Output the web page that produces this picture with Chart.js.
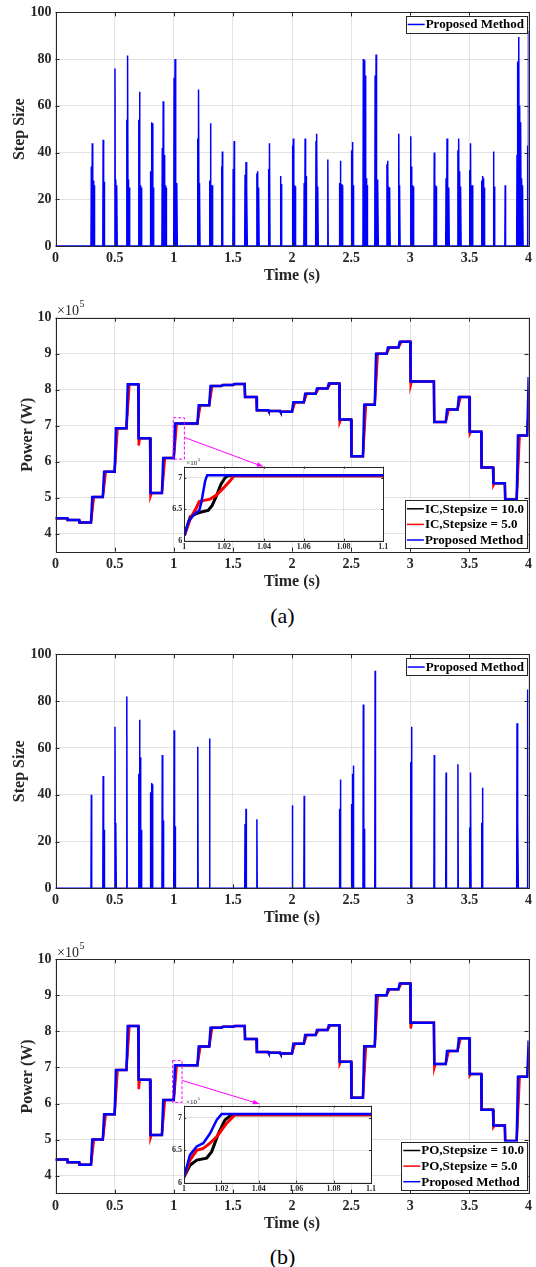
<!DOCTYPE html>
<html>
<head>
<meta charset="utf-8">
<script src="https://cdn.jsdelivr.net/npm/chart.js@4.4.1/dist/chart.umd.min.js"></script>
<style>
  html, body { margin: 0; padding: 0; background: #fff; }
  #page { position: relative; width: 536px; height: 1267px; overflow: hidden; }
  canvas { position: absolute; }
  .cap { position: absolute; left: 0; width: 565px; text-align: center; line-height: 24px;
         font-family: "Liberation Serif", "Times New Roman", serif; font-size: 22px; color: #000; }
</style>
</head>
<body>
<div id="page">
  <canvas id="step1" width="536" height="300" style="left:0;top:0"></canvas>
  <canvas id="power1" width="536" height="300" style="left:0;top:300px"></canvas>
  <canvas id="zoom1" width="230" height="100" style="left:160px;top:455px"></canvas>
  <div class="cap" style="top:604px">(a)</div>
  <canvas id="step2" width="536" height="300" style="left:0;top:640px"></canvas>
  <canvas id="power2" width="536" height="300" style="left:0;top:940px"></canvas>
  <canvas id="zoom2" width="230" height="100" style="left:160px;top:1095px"></canvas>
  <div class="cap" style="top:1245px">(b)</div>
</div>
<script>
const SERIF = '"Liberation Serif", "Times New Roman", serif';
Chart.defaults.font.family = SERIF;
Chart.defaults.font.weight = 'bold';
Chart.defaults.color = '#262626';
Chart.defaults.animation = false;

// tick labels
const timeTicks = [0, 0.5, 1, 1.5, 2, 2.5, 3, 3.5, 4];
const stepTicks = [0, 20, 40, 60, 80, 100];
const powerTicks = [4, 5, 6, 7, 8, 9, 10];
const zoomTimeTicks = [1, 1.02, 1.04, 1.06, 1.08, 1.1];
const zoomPowerTicks = [6, 6.5, 7];

// step size bursts, (a) IC comparison
const burstTimesA = [0.3, 0.4, 0.5, 0.6, 0.7, 0.8, 0.9, 1.0, 1.2, 1.3, 1.4, 1.5, 1.6, 1.7, 1.8, 1.9,
  2.0, 2.1, 2.2, 2.3, 2.4, 2.5, 2.6, 2.7, 2.8, 2.9, 3.0, 3.2, 3.3, 3.4, 3.5, 3.6, 3.7, 3.8, 3.9, 3.99];
const burstPeaksA = [
  [34, 44, 28, 26], [45.5, 27.5], [76, 28.5, 26], [54, 81.5, 28.5, 25], [54, 66, 26, 25],
  [32, 53, 52.5, 25], [42, 62, 39, 26, 25], [72, 80, 28, 27], [46, 67, 27], [28, 52.5, 26, 26],
  [34, 40.5], [33, 45], [30.5, 36, 25], [31, 32, 25], [33, 44], [30, 26.5],
  [43, 46, 26, 25.5], [27, 46, 30], [45, 48, 25.5], [37], [27, 36.5, 26.5, 26], [41, 44.5, 26],
  [80, 79.5, 73, 29, 26], [73, 82, 28.5, 27.5], [35, 36.5, 25.5, 25], [48, 26], [47, 34, 26, 25.5],
  [40, 26, 25.5], [29, 46, 25.5, 25], [41, 46, 32, 25.5], [32.5, 44, 26, 26], [28, 30, 29, 25],
  [40.5, 25.5], [26], [39, 79, 89.5, 60, 53, 29, 26], [43, 92]
];

// step size bursts, (b) PO comparison
const burstTimesB = [0.3, 0.4, 0.5, 0.6, 0.7, 0.8, 0.9, 1.0, 1.2, 1.3, 1.6, 1.7, 2.0, 2.1,
  2.4, 2.5, 2.6, 2.7, 3.0, 3.2, 3.3, 3.4, 3.5, 3.6, 3.9, 3.99];
const burstPeaksB = [
  [40], [48, 25], [69, 28], [82], [49, 72, 56, 25], [41, 45, 44.5], [57, 29], [67.5, 26.5],
  [60.5], [64], [27.5, 34], [29.5], [35.5], [39.5],
  [34, 46.5], [36, 49, 52.5], [78.5, 25.5], [93], [54, 69], [57], [49.5], [53], [26, 49.5],
  [28, 43], [70.5, 29], [85]
];

// power profile (x10^5 W): level reached after each switching instant
const stepTimes = [0, 0.1, 0.2, 0.3, 0.4, 0.5, 0.6, 0.7, 0.8, 0.9, 1.0, 1.1, 1.2, 1.3, 1.4, 1.5,
  1.6, 1.7, 1.8, 1.9, 2.0, 2.1, 2.2, 2.3, 2.4, 2.5, 2.6, 2.7, 2.8, 2.9, 3.0, 3.1, 3.2, 3.3, 3.4,
  3.5, 3.6, 3.7, 3.8, 3.9, 3.99];
const powerLevelsA = [4.43, 4.38, 4.31, 5.02, 5.72, 6.93, 8.15, 6.65, 5.13, 6.10, 7.06, 7.06, 7.57,
  8.10, 8.13, 8.16, 7.80, 7.43, 7.41, 7.39, 7.65, 7.89, 8.03, 8.17, 7.17, 6.15, 7.58, 9.00, 9.17,
  9.33, 8.23, 8.23, 7.10, 7.45, 7.80, 6.83, 5.84, 5.40, 4.95, 6.73, 8.35];
const powerLevelsB = [4.45, 4.37, 4.30, 5.00, 5.70, 6.93, 8.15, 6.66, 5.13, 6.10, 7.06, 7.06, 7.58,
  8.10, 8.13, 8.15, 7.79, 7.43, 7.41, 7.39, 7.66, 7.90, 8.04, 8.17, 7.16, 6.16, 7.59, 9.00, 9.17,
  9.33, 8.24, 8.24, 7.10, 7.46, 7.81, 6.82, 5.83, 5.39, 4.96, 6.74, 7.75];
// red trace undershoot on falling steps
const dipTimesA = [0.7, 0.8, 2.4, 3.0, 3.5, 3.7];
const dipValuesA = [6.45, 5.05, 7.10, 8.13, 6.78, 5.35];
const dipTimesB = [0.7, 0.8, 2.4, 3.0, 3.2, 3.5, 3.7];
const dipValuesB = [6.40, 5.05, 7.10, 8.08, 7.00, 6.78, 5.35];

// zoomed transient around t = 1 s, [time, power]
const zoomBlackA = [[1.0, 6.08], [1.003, 6.38], [1.006, 6.43], [1.009, 6.46], [1.012, 6.48], [1.014, 6.56],
  [1.016, 6.70], [1.0185, 6.90], [1.0205, 7.00], [1.022, 7.03], [1.1, 7.03]];
const zoomRedA = [[1.0, 6.08], [1.003, 6.35], [1.006, 6.52], [1.0075, 6.62], [1.010, 6.64], [1.013, 6.66],
  [1.016, 6.72], [1.0195, 6.83], [1.023, 6.95], [1.025, 7.03], [1.1, 7.03]];
const zoomBlueA = [[1.0, 6.08], [1.002, 6.30], [1.005, 6.42], [1.0075, 6.48], [1.0085, 6.60],
  [1.0105, 6.95], [1.0115, 7.04], [1.1, 7.04]];
const zoomBlackB = [[1.0, 6.09], [1.0032, 6.27], [1.0068, 6.35], [1.0121, 6.38], [1.0148, 6.48],
  [1.0184, 6.76], [1.0219, 6.97], [1.0255, 7.05], [1.1, 7.05]];
const zoomRedB = [[1.0, 6.09], [1.0032, 6.35], [1.0068, 6.50], [1.0103, 6.53], [1.0139, 6.61],
  [1.0175, 6.71], [1.0228, 6.92], [1.0273, 7.05], [1.1, 7.05]];
const zoomBlueB = [[1.0, 6.09], [1.0032, 6.43], [1.0068, 6.56], [1.0103, 6.61], [1.0139, 6.76],
  [1.0175, 6.97], [1.0201, 7.06], [1.1, 7.06]];

const BLUE = '#0000ff', RED = '#ff0000', BLACK = '#000000';

function burstLine(times, peaks) {
  const pts = [{x: 0, y: 0}];
  times.forEach((t, i) => {
    peaks[i].forEach((p, k) => {
      const x = t + 0.003 + k * 0.008;
      pts.push({x: x - 0.003, y: 0}, {x: x, y: p}, {x: x + 0.003, y: 0});
    });
  });
  return pts;
}

function powerLine(levels, lagUp, dipTimes, dipValues) {
  const pts = [{x: stepTimes[0], y: levels[0]}];
  for (let i = 1; i < stepTimes.length; i++) {
    const t = stepTimes[i], prev = levels[i - 1], cur = levels[i];
    pts.push({x: t, y: prev});
    const d = dipTimes ? dipTimes.indexOf(t) : -1;
    if (d >= 0) {
      pts.push({x: t + 0.004, y: dipValues[d]}, {x: t + 0.012, y: cur});
    } else {
      pts.push({x: t + (cur > prev ? lagUp : 0.003), y: cur});
    }
  }
  pts.push({x: 4.1, y: levels[levels.length - 1]});
  return pts;
}

const pairs = arr => arr.map(([x, y]) => ({x, y}));

// box, inward ticks
const framePlugin = {
  id: 'frame',
  afterDatasetsDraw(chart, args, opts) {
    const {ctx, chartArea: a, scales} = chart;
    const len = opts.tick || 4;
    ctx.save();
    ctx.strokeStyle = '#262626';
    ctx.lineWidth = 1;
    ctx.beginPath();
    scales.x.ticks.forEach(t => {
      const px = Math.round(scales.x.getPixelForValue(t.value)) + 0.5;
      ctx.moveTo(px, a.bottom); ctx.lineTo(px, a.bottom - len);
      ctx.moveTo(px, a.top); ctx.lineTo(px, a.top + len);
    });
    scales.y.ticks.forEach(t => {
      const py = Math.round(scales.y.getPixelForValue(t.value)) + 0.5;
      ctx.moveTo(a.left, py); ctx.lineTo(a.left + len, py);
      ctx.moveTo(a.right, py); ctx.lineTo(a.right - len, py);
    });
    ctx.stroke();
    ctx.strokeRect(Math.round(a.left) + 0.5, Math.round(a.top) + 0.5,
      Math.round(a.right - a.left), Math.round(a.bottom - a.top));
    ctx.restore();
  }
};

const whiteArea = {
  id: 'whiteArea',
  beforeDraw(chart) {
    const {ctx, chartArea: a} = chart;
    ctx.save();
    ctx.fillStyle = '#fff';
    ctx.fillRect(a.left, a.top, a.right - a.left, a.bottom - a.top);
    ctx.restore();
  }
};

const boxLegend = {
  id: 'boxLegend',
  afterDraw(chart, args, opts) {
    if (!opts.items) return;
    const {ctx} = chart;
    ctx.save();
    ctx.font = 'bold 13px ' + SERIF;
    const tw = Math.max(...opts.items.map(it => ctx.measureText(it.text).width));
    const w = tw + 23, h = opts.rowH * opts.items.length + 1.5;
    const x = opts.right - w, y = opts.top;
    ctx.fillStyle = '#fff';
    ctx.fillRect(x, y, w, h);
    ctx.strokeStyle = '#262626';
    ctx.lineWidth = 1;
    ctx.strokeRect(Math.round(x) + 0.5, Math.round(y) + 0.5, Math.round(w), Math.round(h));
    opts.items.forEach((it, i) => {
      const cy = y + 1 + opts.rowH * (i + 0.5);
      ctx.strokeStyle = it.color;
      ctx.lineWidth = 1.5;
      ctx.beginPath();
      ctx.moveTo(x + 2, cy); ctx.lineTo(x + 19, cy);
      ctx.stroke();
      ctx.fillStyle = '#000';
      ctx.textBaseline = 'middle';
      ctx.fillText(it.text, x + 20, cy + 0.5);
    });
    ctx.restore();
  }
};

const exponent = {
  id: 'exponent',
  afterDraw(chart, args, opts) {
    if (!opts.size) return;
    const {ctx, chartArea: a} = chart;
    const s = opts.size;
    ctx.save();
    ctx.fillStyle = '#262626';
    ctx.textBaseline = 'alphabetic';
    ctx.font = s + 'px ' + SERIF;
    const x0 = a.left + opts.dx, y0 = a.top - opts.dy;
    ctx.fillText('\u00d710', x0, y0);
    const w = ctx.measureText('\u00d710').width;
    ctx.font = Math.round(s * 0.72) + 'px ' + SERIF;
    ctx.fillText('5', x0 + w + 0.5, y0 - s * 0.55);
    ctx.restore();
  }
};

const zoomMark = {
  id: 'zoomMark',
  afterDatasetsDraw(chart, args, opts) {
    if (!opts.box) return;
    const {ctx, scales: {x, y}} = chart;
    const [x1, x2, y1, y2] = opts.box;
    const px1 = x.getPixelForValue(x1), px2 = x.getPixelForValue(x2);
    const py1 = y.getPixelForValue(y1), py2 = y.getPixelForValue(y2);
    ctx.save();
    ctx.strokeStyle = '#ff00ff';
    ctx.lineWidth = 1;
    ctx.setLineDash([3, 2]);
    ctx.strokeRect(px1, py2, px2 - px1, py1 - py2);
    ctx.setLineDash([]);
    const sx = x.getPixelForValue(opts.from[0]), sy = y.getPixelForValue(opts.from[1]);
    const ex = x.getPixelForValue(opts.to[0]), ey = y.getPixelForValue(opts.to[1]);
    ctx.beginPath();
    ctx.moveTo(sx, sy); ctx.lineTo(ex, ey);
    ctx.stroke();
    const ang = Math.atan2(ey - sy, ex - sx);
    ctx.fillStyle = '#ff00ff';
    ctx.beginPath();
    ctx.moveTo(ex, ey);
    ctx.lineTo(ex - 7 * Math.cos(ang - 0.35), ey - 7 * Math.sin(ang - 0.35));
    ctx.lineTo(ex - 7 * Math.cos(ang + 0.35), ey - 7 * Math.sin(ang + 0.35));
    ctx.closePath();
    ctx.fill();
    ctx.restore();
  }
};

function fixedTicks(values) {
  return scale => { scale.ticks = values.map(v => ({value: v})); };
}

function mainScales(yTicks, yMin, yMax, yTitle, yTitlePad, xHeight, xTitlePad) {
  return {
    x: {
      type: 'linear', min: 0, max: 4,
      afterBuildTicks: fixedTicks(timeTicks),
      afterFit: s => { s.height = xHeight; },
      grid: {color: '#e2e2e2', drawTicks: false},
      border: {display: false},
      ticks: {font: {size: 14}, padding: 4, maxRotation: 0, callback: v => String(v)},
      title: {display: true, text: 'Time (s)', font: {size: 16}, color: '#262626',
              padding: {top: 0, bottom: xTitlePad}}
    },
    y: {
      type: 'linear', min: yMin, max: yMax,
      afterBuildTicks: fixedTicks(yTicks),
      afterFit: s => { s.width = 55.5; },
      grid: {color: '#e2e2e2', drawTicks: false},
      border: {display: false},
      ticks: {font: {size: 14}, padding: 4, callback: v => String(v)},
      title: {display: true, text: yTitle, font: {size: 16}, color: '#262626',
              padding: {top: yTitlePad, bottom: 0}}
    }
  };
}

function stepChart(id, times, peaks, padTop, xHeight, xTitlePad, legendTop) {
  return new Chart(document.getElementById(id), {
    type: 'line',
    data: {
      datasets: [{
        label: 'Proposed Method', data: burstLine(times, peaks),
        borderColor: BLUE, borderWidth: 1.5, pointRadius: 0, tension: 0
      }]
    },
    options: {
      responsive: false, devicePixelRatio: 1,
      layout: {autoPadding: false, padding: {top: padTop, right: 6, left: 0, bottom: 0}},
      scales: mainScales(stepTicks, 0, 100, 'Step Size', 10.4, xHeight, xTitlePad),
      plugins: {
        legend: {display: false}, tooltip: {enabled: false},
        frame: {tick: 4},
        boxLegend: {right: 527, top: legendTop, rowH: 15.5,
                    items: [{text: 'Proposed Method', color: BLUE}]}
      }
    },
    plugins: [framePlugin, boxLegend]
  });
}

function powerChart(id, levels, dipTimes, dipValues, method, padTop, xHeight, xTitlePad, legendTop, mark) {
  return new Chart(document.getElementById(id), {
    type: 'line',
    data: {
      datasets: [
        {label: method + ',Stepsize = 10.0', data: powerLine(levels, 0.021),
         borderColor: BLACK, borderWidth: 2, pointRadius: 0, tension: 0, order: 3},
        {label: method + ',Stepsize = 5.0', data: powerLine(levels, 0.025, dipTimes, dipValues),
         borderColor: RED, borderWidth: 2.5, pointRadius: 0, tension: 0, order: 2},
        {label: 'Proposed Method', data: powerLine(levels, 0.011),
         borderColor: BLUE, borderWidth: 2.5, pointRadius: 0, tension: 0, order: 1}
      ]
    },
    options: {
      responsive: false, devicePixelRatio: 1,
      layout: {autoPadding: false, padding: {top: padTop, right: 6, left: 0, bottom: 0}},
      scales: mainScales(powerTicks, 3.5, 10, 'Power (W)', 18, xHeight, xTitlePad),
      plugins: {
        legend: {display: false}, tooltip: {enabled: false},
        frame: {tick: 4},
        exponent: {size: 14, dx: 1.5, dy: 2.7},
        zoomMark: mark,
        boxLegend: {right: 527, top: legendTop, rowH: 15.6, items: [
          {text: method + ',Stepsize = 10.0', color: BLACK},
          {text: method + ',Stepsize = 5.0', color: RED},
          {text: 'Proposed Method', color: BLUE}]}
      }
    },
    plugins: [framePlugin, exponent, zoomMark, boxLegend]
  });
}

function zoomChart(id, black, red, blue, yMax, yWidth, padTop, padRight, xHeight) {
  return new Chart(document.getElementById(id), {
    type: 'line',
    data: {
      datasets: [
        {data: pairs(black), borderColor: BLACK, borderWidth: 3, pointRadius: 0, tension: 0, order: 3},
        {data: pairs(red), borderColor: RED, borderWidth: 3, pointRadius: 0, tension: 0, order: 2},
        {data: pairs(blue), borderColor: BLUE, borderWidth: 2.5, pointRadius: 0, tension: 0, order: 1}
      ]
    },
    options: {
      responsive: false, devicePixelRatio: 1,
      layout: {autoPadding: false, padding: {top: padTop, right: padRight, left: 0, bottom: 0}},
      scales: {
        x: {
          type: 'linear', min: 1, max: 1.1,
          afterBuildTicks: fixedTicks(zoomTimeTicks),
          afterFit: s => { s.height = xHeight; },
          grid: {color: '#e2e2e2', drawTicks: false}, border: {display: false},
          ticks: {font: {size: 8}, padding: 1, maxRotation: 0, callback: v => String(v)}
        },
        y: {
          type: 'linear', min: 6, max: yMax,
          afterBuildTicks: fixedTicks(zoomPowerTicks),
          afterFit: s => { s.width = yWidth; },
          grid: {color: '#e2e2e2', drawTicks: false}, border: {display: false},
          ticks: {font: {size: 8}, padding: 2, callback: v => String(v)}
        }
      },
      plugins: {
        legend: {display: false}, tooltip: {enabled: false},
        frame: {tick: 2},
        exponent: {size: 7, dx: 2, dy: 2}
      }
    },
    plugins: [whiteArea, framePlugin, exponent]
  });
}

stepChart('step1', burstTimesA, burstPeaksA, 12, 54, 14.4, 15.7);
powerChart('power1', powerLevelsA, dipTimesA, dipValuesA, 'IC', 17.7, 48.3, 8.4, 200,
  {box: [0.995, 1.09, 6.07, 7.22], from: [1.094, 6.67], to: [1.758, 5.86]});
zoomChart('zoom1', zoomBlackA, zoomRedA, zoomBlueA, 7.175, 24.3, 11.7, 6.7, 14.3);

stepChart('step2', burstTimesB, burstPeaksB, 14.3, 51.7, 12.1, 18.3);
powerChart('power2', powerLevelsB, dipTimesB, dipValuesB, 'PO', 19.3, 46.3, 6.4, 201.7,
  {box: [0.99, 1.07, 6.03, 7.19], from: [1.072, 6.64], to: [1.724, 5.99]});
zoomChart('zoom2', zoomBlackB, zoomRedB, zoomBlueB, 7.19, 24, 10.7, 19, 12.3);
</script>
</body>
</html>
